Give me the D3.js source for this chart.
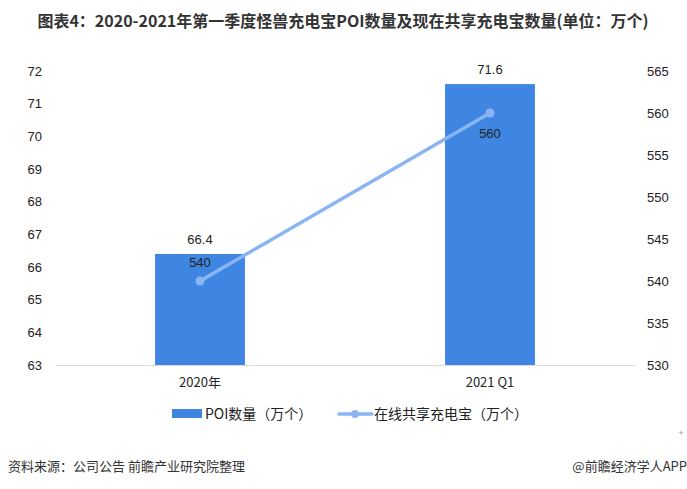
<!DOCTYPE html>
<html>
<head>
<meta charset="utf-8">
<script src="https://cdn.jsdelivr.net/npm/d3@7"></script>
<style>
  body { margin: 0; background: #fff; }
  text { font-family: "Noto Sans CJK SC", "Noto Sans", sans-serif; }
</style>
</head>
<body>
<svg id="chart" width="687" height="489"></svg>
<script>
// chart data
var categories = ["2020年", "2021 Q1"];
var poiValues = [66.4, 71.6];
var onlineValues = [540, 560];
var leftTicks = [63, 64, 65, 66, 67, 68, 69, 70, 71, 72];
var rightTicks = [530, 535, 540, 545, 550, 555, 560, 565];
var legendNames = ["POI数量（万个）", "在线共享充电宝（万个）"];

var svg = d3.select("#chart");
var barColor = "#3f86e3", lineColor = "#8bb5f2", textColor = "#222";

// title
svg.append("text")
    .attr("x", 343).attr("y", 27)
    .attr("text-anchor", "middle")
    .attr("font-size", 16).attr("font-weight", "bold")
    .attr("fill", "#333")
    .text("图表4：2020-2021年第一季度怪兽充电宝POI数量及现在共享充电宝数量(单位：万个)");

//scales
var x = d3.scaleBand().domain(categories).range([55, 635]).paddingInner(0.69).paddingOuter(0.345);
var yL = d3.scaleLinear().domain([63, 72]).range([365, 71]);
var yR = d3.scaleLinear().domain([530, 565]).range([365, 71]);

/* AXES */
var leftAxis = svg.append("g")
    .attr("transform", "translate(42,0)")
    .call(d3.axisLeft(yL).tickValues(leftTicks).tickSize(0).tickPadding(0));
var rightAxis = svg.append("g")
    .attr("transform", "translate(647,0)")
    .call(d3.axisRight(yR).tickValues(rightTicks).tickSize(0).tickPadding(0));
[leftAxis, rightAxis].forEach(function (a) {
    a.select(".domain").remove();
    a.selectAll("text").attr("font-size", 13).attr("fill", textColor)
        .style("font-family", "'Liberation Sans', Arial, sans-serif");
});
rightAxis.selectAll("text").attr("x", 0);

var bottomAxis = svg.append("g")
    .attr("transform", "translate(0,365)")
    .call(d3.axisBottom(x).tickSize(0).tickPadding(13));
bottomAxis.select(".domain").attr("stroke", "#d9d9d9");
bottomAxis.selectAll("text").attr("font-size", 13).attr("fill", textColor);

/* BARS */
svg.selectAll("rect.bar")
    .data(poiValues).enter()
    .append("rect").attr("class", "bar")
    .attr("x", function (d, i) { return x(categories[i]); })
    .attr("y", function (d) { return yL(d); })
    .attr("width", x.bandwidth())
    .attr("height", function (d) { return yL(63) - yL(d); })
    .attr("fill", barColor);

svg.selectAll("text.barLabel")
    .data(poiValues).enter()
    .append("text").attr("class", "barLabel")
    .attr("x", function (d, i) { return x(categories[i]) + x.bandwidth() / 2; })
    .attr("y", function (d) { return yL(d) - 10; })
    .attr("text-anchor", "middle")
    .attr("font-size", 13).attr("fill", textColor)
    .style("font-family", "'Liberation Sans', Arial, sans-serif")
    .text(function (d) { return d; });

/* LINE */
var cx = function (d, i) { return x(categories[i]) + x.bandwidth() / 2; };
var line = d3.line().x(cx).y(function (d) { return yR(d); });
svg.append("path")
    .datum(onlineValues)
    .attr("d", line)
    .attr("fill", "none").attr("stroke", lineColor)
    .attr("stroke-width", 3.5).attr("stroke-linecap", "round");
svg.selectAll("circle.pt")
    .data(onlineValues).enter()
    .append("circle").attr("class", "pt")
    .attr("cx", cx).attr("cy", function (d) { return yR(d); })
    .attr("r", 4.5).attr("fill", lineColor);

var lineLabelOffset = [-14, 25];
svg.selectAll("text.ptLabel")
    .data(onlineValues).enter()
    .append("text").attr("class", "ptLabel")
    .attr("x", cx)
    .attr("y", function (d, i) { return yR(d) + lineLabelOffset[i]; })
    .attr("text-anchor", "middle")
    .attr("font-size", 13).attr("fill", textColor)
    .style("font-family", "'Liberation Sans', Arial, sans-serif")
    .text(function (d) { return d; });

/* LEGEND */
var legend = svg.append("g");
legend.append("rect").attr("x", 172).attr("y", 409).attr("width", 30).attr("height", 9).attr("fill", barColor);
legend.append("text").attr("x", 205).attr("y", 419).attr("font-size", 14).attr("fill", textColor).text(legendNames[0]);
legend.append("line").attr("x1", 339).attr("x2", 372).attr("y1", 414).attr("y2", 414)
    .attr("stroke", lineColor).attr("stroke-width", 3.5).attr("stroke-linecap", "round");
legend.append("circle").attr("cx", 355).attr("cy", 414).attr("r", 4).attr("fill", lineColor);
legend.append("text").attr("x", 374).attr("y", 419).attr("font-size", 14).attr("fill", textColor).text(legendNames[1]);

svg.append("text").attr("x", 681).attr("y", 436).attr("text-anchor", "middle")
    .attr("font-size", 9).attr("fill", "#999").text("+");

/* FOOTER */
svg.append("text").attr("x", 8).attr("y", 471).attr("font-size", 13).attr("fill", "#333")
    .text("资料来源：公司公告 前瞻产业研究院整理");
svg.append("text").attr("x", 687).attr("y", 471).attr("text-anchor", "end").attr("font-size", 13).attr("fill", "#333")
    .text("@前瞻经济学人APP");
</script>
</body>
</html>
